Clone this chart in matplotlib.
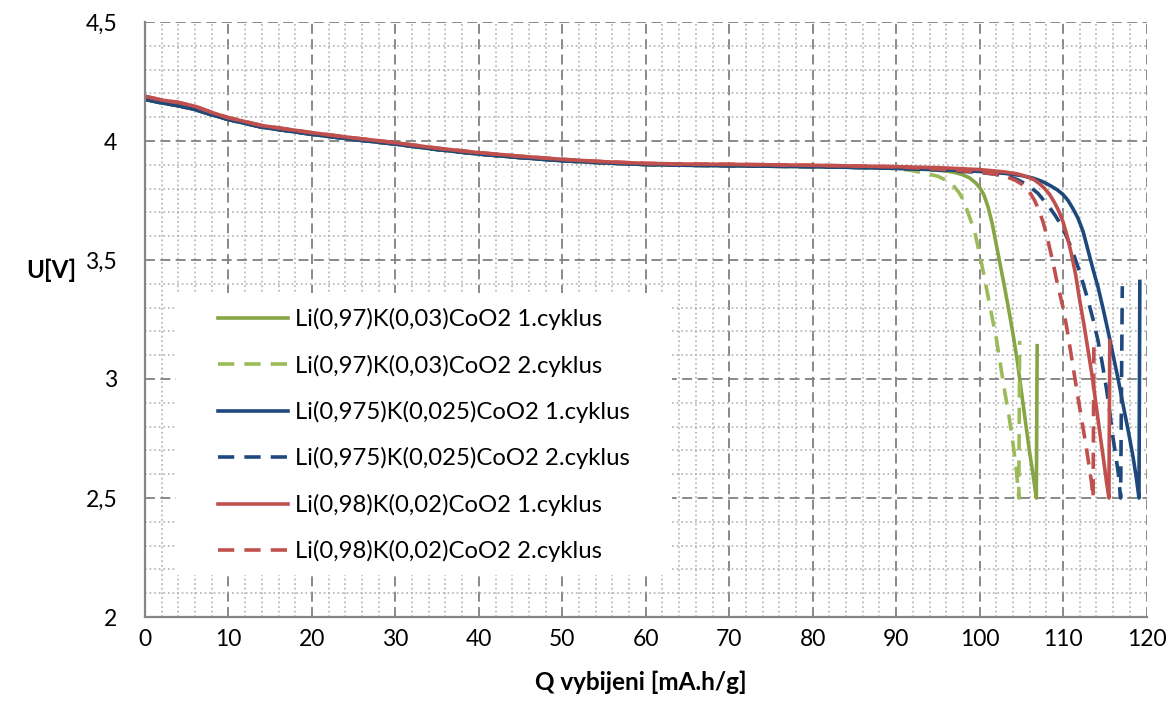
import matplotlib
matplotlib.use("Agg")
import matplotlib.pyplot as plt
import matplotlib.patches as patches
from matplotlib.ticker import MultipleLocator, FuncFormatter

plt.rcParams['font.family'] = ['Lato', 'DejaVu Sans']

# ── data ─────────────────────────────────────────────────────
q_flat = [0, 2, 4, 6, 8, 10, 14, 20, 25, 30, 35, 40, 45, 50, 55, 60, 65, 70, 75, 80, 85, 90]
u_flat_red = [4.188, 4.172, 4.162, 4.146, 4.120, 4.098, 4.065, 4.035, 4.013, 3.993, 3.970,
              3.951, 3.936, 3.923, 3.913, 3.906, 3.903, 3.902, 3.900, 3.898, 3.895, 3.892]
u_flat_blue = [4.175, 4.160, 4.148, 4.132, 4.110, 4.090, 4.058, 4.028, 4.006, 3.987, 3.964,
               3.945, 3.930, 3.917, 3.908, 3.901, 3.898, 3.896, 3.894, 3.892, 3.889, 3.885]

# tails after Q = 90 (discharge knee, cut-off 2.5 V, relaxation jump)
q_k97_1 = [94, 96, 97, 98, 98.8, 99.5, 100, 100.5, 101, 101.5, 102, 102.5, 103, 103.5, 104,
           104.5, 105, 105.5, 106, 106.4, 106.8, 106.9]
u_k97_1 = [3.880, 3.874, 3.868, 3.858, 3.845, 3.825, 3.805, 3.775, 3.725, 3.655, 3.565, 3.475,
           3.385, 3.290, 3.190, 3.080, 2.950, 2.820, 2.690, 2.600, 2.500, 3.140]

q_k97_2 = [92, 93, 94, 95, 96, 96.8, 97.5, 98, 98.5, 99, 99.5, 100, 100.5, 101, 101.5, 102,
           102.5, 103, 103.5, 104, 104.4, 104.7, 104.8]
u_k97_2 = [3.875, 3.868, 3.860, 3.852, 3.835, 3.815, 3.785, 3.755, 3.710, 3.660, 3.605, 3.525,
           3.440, 3.350, 3.260, 3.170, 3.060, 2.950, 2.850, 2.730, 2.620, 2.500, 3.160]

q_k975_1 = [95, 100, 103, 105, 106.5, 107.5, 108.5, 109.3, 110, 110.6, 111.2, 111.8, 112.4, 113,
            113.6, 114.2, 114.8, 115.4, 116, 116.6, 117.2, 117.8, 118.4, 118.8, 119.1, 119.2]
u_k975_1 = [3.880, 3.872, 3.864, 3.855, 3.843, 3.830, 3.812, 3.795, 3.775, 3.750, 3.715, 3.675,
            3.620, 3.540, 3.460, 3.385, 3.295, 3.200, 3.100, 3.000, 2.890, 2.785, 2.670, 2.580,
            2.500, 3.410]

q_k975_2 = [95, 100, 102, 103.5, 104.5, 105.5, 106.3, 107, 107.7, 108.4, 109.1, 109.8, 110.4, 111,
            111.5, 112, 112.5, 113, 113.6, 114.2, 114.7, 115.2, 115.6, 116, 116.3, 116.6, 116.9, 117.1]
u_k975_2 = [3.878, 3.868, 3.860, 3.850, 3.838, 3.820, 3.800, 3.780, 3.750, 3.720, 3.685, 3.645,
            3.600, 3.550, 3.500, 3.450, 3.390, 3.330, 3.250, 3.160, 3.065, 2.960, 2.860, 2.750,
            2.680, 2.610, 2.500, 3.390]

q_k98_1 = [95, 100, 103, 104.5, 105.5, 106.5, 107.2, 107.8, 108.4, 109, 109.5, 110, 110.5, 111,
           111.5, 112, 112.5, 113, 113.5, 114, 114.5, 114.9, 115.2, 115.5, 115.6]
u_k98_1 = [3.888, 3.880, 3.870, 3.862, 3.852, 3.838, 3.820, 3.800, 3.775, 3.740, 3.705, 3.660,
           3.600, 3.525, 3.440, 3.330, 3.230, 3.120, 3.010, 2.880, 2.750, 2.650, 2.570, 2.500, 3.160]

q_k98_2 = [95, 100, 102, 103.2, 104.3, 105.2, 105.9, 106.6, 107.1, 107.6, 108, 108.4, 108.8, 109.2,
           109.6, 110, 110.4, 110.8, 111.3, 111.8, 112.3, 112.8, 113.1, 113.4, 113.6, 113.7]
u_k98_2 = [3.882, 3.870, 3.860, 3.850, 3.835, 3.815, 3.790, 3.750, 3.710, 3.660, 3.610, 3.550,
           3.490, 3.420, 3.360, 3.300, 3.225, 3.140, 3.030, 2.920, 2.815, 2.710, 2.640, 2.570,
           2.500, 3.170]

labels = ["Li(0,97)K(0,03)CoO2 1.cyklus", "Li(0,97)K(0,03)CoO2 2.cyklus",
          "Li(0,975)K(0,025)CoO2 1.cyklus", "Li(0,975)K(0,025)CoO2 2.cyklus",
          "Li(0,98)K(0,02)CoO2 1.cyklus", "Li(0,98)K(0,02)CoO2 2.cyklus"]
series = [
    (q_flat + q_k97_1, u_flat_blue + u_k97_1, "#86A544", "-"),
    (q_flat + q_k97_2, u_flat_blue + u_k97_2, "#9BBB59", "--"),
    (q_flat + q_k975_1, u_flat_blue + u_k975_1, "#1F497D", "-"),
    (q_flat + q_k975_2, u_flat_blue + u_k975_2, "#1F497D", "--"),
    (q_flat + q_k98_1, u_flat_red + u_k98_1, "#C0504D", "-"),
    (q_flat + q_k98_2, u_flat_red + u_k98_2, "#C0504D", "--"),
]

# ── plot ──────────────────────────────────────────────────────
fig = plt.figure(figsize=(11.7, 7.22), dpi=100)
ax = fig.add_axes([145 / 1170, 1 - 617 / 722, 1001.5 / 1170, 595 / 722])

for (q, u, col, ls), lab in zip(series, labels):
    if ls == "--":
        ax.plot(q, u, color=col, lw=2.6, dashes=(4.5, 2.8), label=lab, solid_joinstyle="round")
    else:
        ax.plot(q, u, color=col, lw=2.6, label=lab, solid_joinstyle="round")

ax.set_xlim(0, 120)
ax.set_ylim(2, 4.5)
ax.xaxis.set_major_locator(MultipleLocator(10))
ax.xaxis.set_minor_locator(MultipleLocator(2))
ax.yaxis.set_major_locator(MultipleLocator(0.5))
ax.yaxis.set_minor_locator(MultipleLocator(0.1))
ax.yaxis.set_major_formatter(FuncFormatter(lambda v, p: f"{v:g}".replace(".", ",")))

ax.set_axisbelow(True)
ax.grid(which="major", color="#808080", lw=1.3, dashes=(5.5, 3))
ax.grid(which="minor", color="#ACACAC", lw=1.1, dashes=(1.1, 1.9))
ax.tick_params(which="both", length=0)
ax.tick_params(axis="x", pad=9, labelsize=16.5)
ax.tick_params(axis="y", pad=20, labelsize=16.5)

for s in ["top", "right"]:
    ax.spines[s].set_visible(False)
for s in ["left", "bottom"]:
    ax.spines[s].set_color("#868686")
    ax.spines[s].set_linewidth(1.6)

# white box behind the legend
ax.add_patch(patches.Rectangle((31 / 1001.5, (617 - 575) / 595), (672 - 176) / 1001.5, (575 - 293) / 595,
                               transform=ax.transAxes, facecolor="white", edgecolor="none", zorder=1))
ax.legend(loc="upper left", bbox_to_anchor=(73 / 1001.5, 1 - (308 - 22) / 595), frameon=False,
          fontsize=17.2, handlelength=2.93, handletextpad=0.3, labelspacing=1.02,
          borderpad=0, borderaxespad=0)

fig.text(51 / 1170, 1 - 270 / 722, "U[V]", fontsize=17.5, fontweight="bold", ha="center", va="center")
fig.text(641 / 1170, 1 - 682 / 722, "Q vybijeni [mA.h/g]", fontsize=17.5, fontweight="bold",
         ha="center", va="center")

plt.savefig("out.png", dpi=100)
plt.close()
